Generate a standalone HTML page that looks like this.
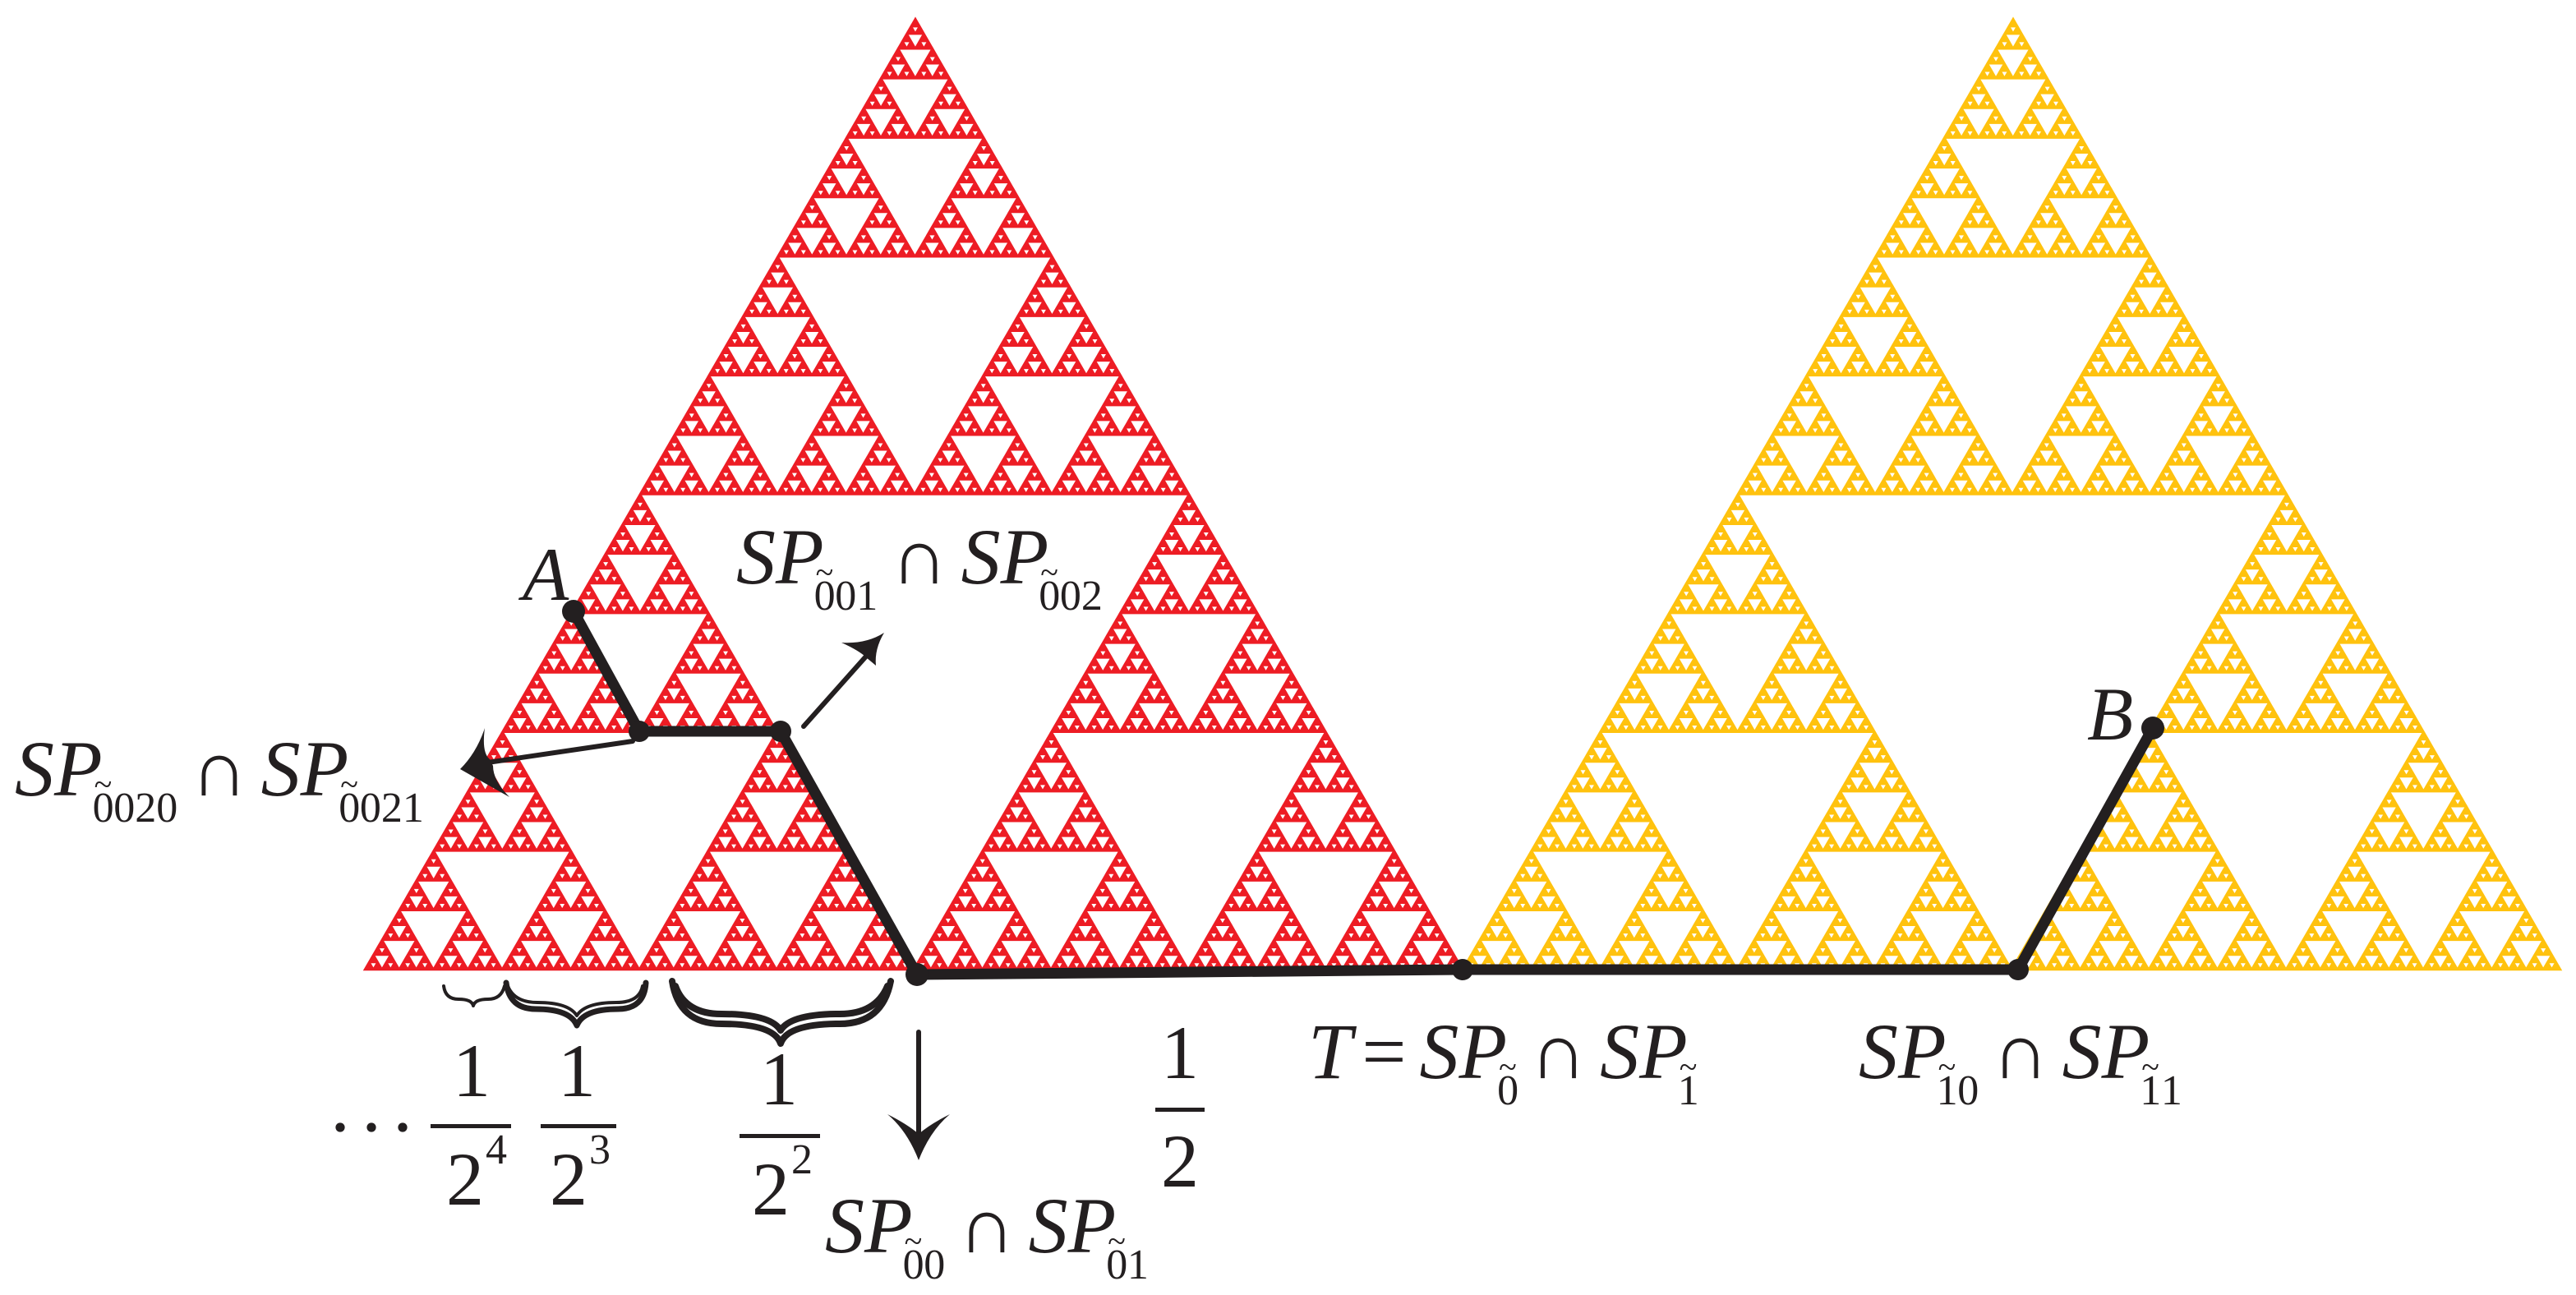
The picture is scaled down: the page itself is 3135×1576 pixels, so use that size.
<!DOCTYPE html>
<html><head><meta charset="utf-8">
<style>
html,body{margin:0;padding:0;background:#fff;}
svg{display:block;}
svg text, svg tspan{font-family:"Liberation Serif","DejaVu Serif","Times New Roman",serif;}
text{fill:#231f20;}
.it{font-style:italic;}
</style></head>
<body>
<svg id="s" width="3135" height="1576" viewBox="0 0 1567.5 788" xmlns="http://www.w3.org/2000/svg" font-family="'Liberation Serif', 'DejaVu Serif', serif">
<path id="red" fill="#ed1c24" stroke="#ed1c24" stroke-width="1.3"/>
<path id="yel" fill="#ffc20e" stroke="#ffc20e" stroke-width="1.3"/>
<g stroke="#231f20" fill="none" stroke-linejoin="round" stroke-linecap="round">
<polyline points="349,372 389,445 475,445 558,593 890,590 1228,590 1310,443" stroke-width="6.5"/>
<line x1="489" y1="442" x2="530" y2="396" stroke-width="3"/>
<line x1="385" y1="451" x2="290" y2="465" stroke-width="3"/>
<line x1="559" y1="628" x2="559" y2="700" stroke-width="3"/>
<path d="M270,600 q1,8 9,8 q8,0 9,4 q1,-4 9,-4 q8,0 10,-8" stroke-width="2"/>
<path d="M308,598 q2,16 18,16 q21,0 25,10 q4,-10 25,-10 q16,0 17,-16" stroke-width="3.5"/>
<path d="M309,600 q4,10 18,10 q19,0 24,8 q5,-8 24,-8 q14,0 16,-10" stroke-width="2"/>
<path d="M409,597 q4,26 30,26 q32,0 36,12 q4,-12 36,-12 q26,0 31,-26" stroke-width="4"/>
<path d="M411,600 q6,17 28,17 q30,0 36,10 q6,-10 36,-10 q22,0 29,-17" stroke-width="4"/>
</g>
<g fill="#231f20">
<circle cx="349" cy="372" r="7"/><circle cx="389" cy="445" r="6.5"/><circle cx="475" cy="445" r="6.5"/>
<circle cx="558" cy="593" r="7"/><circle cx="890" cy="590" r="6.5"/><circle cx="1228" cy="590" r="6.5"/><circle cx="1310" cy="443" r="7"/>
<path d="M538,385 Q527,392 512,391 Q523,396 527,400 L533,405 Q532,395 538,385Z"/>
<path d="M280,468 Q290,458 295,443 Q293,458 298,462 L300,466 Q300,475 310,485 Q294,476 280,468Z"/>
<path d="M559,706 Q552,688 540,678 Q552,684 559,690 Q566,684 578,678 Q566,688 559,706Z"/>
</g>
<text x="318" y="365" font-size="46" class="it">A</text>
<text x="1270" y="450" font-size="46" class="it">B</text>

<text x="448" y="355" font-size="48"><tspan class="it">SP</tspan><tspan font-size="26" dx="-6" dy="16">0</tspan><tspan font-size="20" dx="-12" dy="-16">~</tspan><tspan font-size="26" dx="1" dy="16">01</tspan><tspan dx="8" dy="-16">∩</tspan><tspan class="it" dx="8">SP</tspan><tspan font-size="26" dx="-6" dy="16">0</tspan><tspan font-size="20" dx="-12" dy="-16">~</tspan><tspan font-size="26" dx="1" dy="16">02</tspan></text>

<text x="9" y="484" font-size="48"><tspan class="it">SP</tspan><tspan font-size="26" dx="-6" dy="16">0</tspan><tspan font-size="20" dx="-12" dy="-16">~</tspan><tspan font-size="26" dx="1" dy="16">020</tspan><tspan dx="8" dy="-16">∩</tspan><tspan class="it" dx="8">SP</tspan><tspan font-size="26" dx="-6" dy="16">0</tspan><tspan font-size="20" dx="-12" dy="-16">~</tspan><tspan font-size="26" dx="1" dy="16">021</tspan></text>

<text x="502" y="762" font-size="48"><tspan class="it">SP</tspan><tspan font-size="26" dx="-6" dy="16">0</tspan><tspan font-size="20" dx="-12" dy="-16">~</tspan><tspan font-size="26" dx="1" dy="16">0</tspan><tspan dx="8" dy="-16">∩</tspan><tspan class="it" dx="8">SP</tspan><tspan font-size="26" dx="-6" dy="16">0</tspan><tspan font-size="20" dx="-12" dy="-16">~</tspan><tspan font-size="26" dx="1" dy="16">1</tspan></text>

<text x="796" y="656" font-size="48"><tspan class="it">T</tspan><tspan dx="6">=</tspan><tspan class="it" dx="8">SP</tspan><tspan font-size="26" dx="-6" dy="16">0</tspan><tspan font-size="20" dx="-12" dy="-16">~</tspan><tspan dx="8">∩</tspan><tspan class="it" dx="8">SP</tspan><tspan font-size="26" dx="-6" dy="16">1</tspan><tspan font-size="20" dx="-12" dy="-16">~</tspan></text>

<text x="1131" y="656" font-size="48"><tspan class="it">SP</tspan><tspan font-size="26" dx="-6" dy="16">1</tspan><tspan font-size="20" dx="-12" dy="-16">~</tspan><tspan font-size="26" dx="1" dy="16">0</tspan><tspan dx="8" dy="-16">∩</tspan><tspan class="it" dx="8">SP</tspan><tspan font-size="26" dx="-6" dy="16">1</tspan><tspan font-size="20" dx="-12" dy="-16">~</tspan><tspan font-size="26" dx="1" dy="16">1</tspan></text>

<g fill="#231f20"><circle cx="207" cy="686" r="2.8"/><circle cx="226" cy="686" r="2.8"/><circle cx="245" cy="686" r="2.8"/></g>
<g font-size="46" text-anchor="middle">
<text x="287" y="667">1</text><rect x="262" y="684" width="49" height="2.5" fill="#231f20"/><text x="283" y="733">2</text><text x="302" y="708" font-size="26">4</text>
<text x="351" y="667">1</text><rect x="329" y="684" width="46" height="2.5" fill="#231f20"/><text x="346" y="733">2</text><text x="365" y="708" font-size="26">3</text>
<text x="474" y="672">1</text><rect x="450" y="690" width="49" height="2.5" fill="#231f20"/><text x="469" y="739">2</text><text x="488" y="714" font-size="26">2</text>
<text x="718" y="656">1</text><rect x="703" y="674" width="30" height="2.5" fill="#231f20"/><text x="718" y="722">2</text>
</g>
</svg>
<script>
function sier(ax,ay,bx,by,cx,cy,d,out){
 if(d===0){out.push("M"+ax.toFixed(2)+","+ay.toFixed(2)+"L"+bx.toFixed(2)+","+by.toFixed(2)+"L"+cx.toFixed(2)+","+cy.toFixed(2)+"Z");return;}
 var abx=(ax+bx)/2,aby=(ay+by)/2,bcx=(bx+cx)/2,bcy=(by+cy)/2,cax=(cx+ax)/2,cay=(cy+ay)/2;
 sier(ax,ay,abx,aby,cax,cay,d-1,out);
 sier(abx,aby,bx,by,bcx,bcy,d-1,out);
 sier(cax,cay,bcx,bcy,cx,cy,d-1,out);
}
var h=668*Math.sqrt(3)/2;
var o=[];sier(557,590-h,222,590,890,590,7,o);document.getElementById("red").setAttribute("d",o.join(""));
o=[];sier(1225,590-h,890,590,1558,590,7,o);document.getElementById("yel").setAttribute("d",o.join(""));
</script>
</body></html>
